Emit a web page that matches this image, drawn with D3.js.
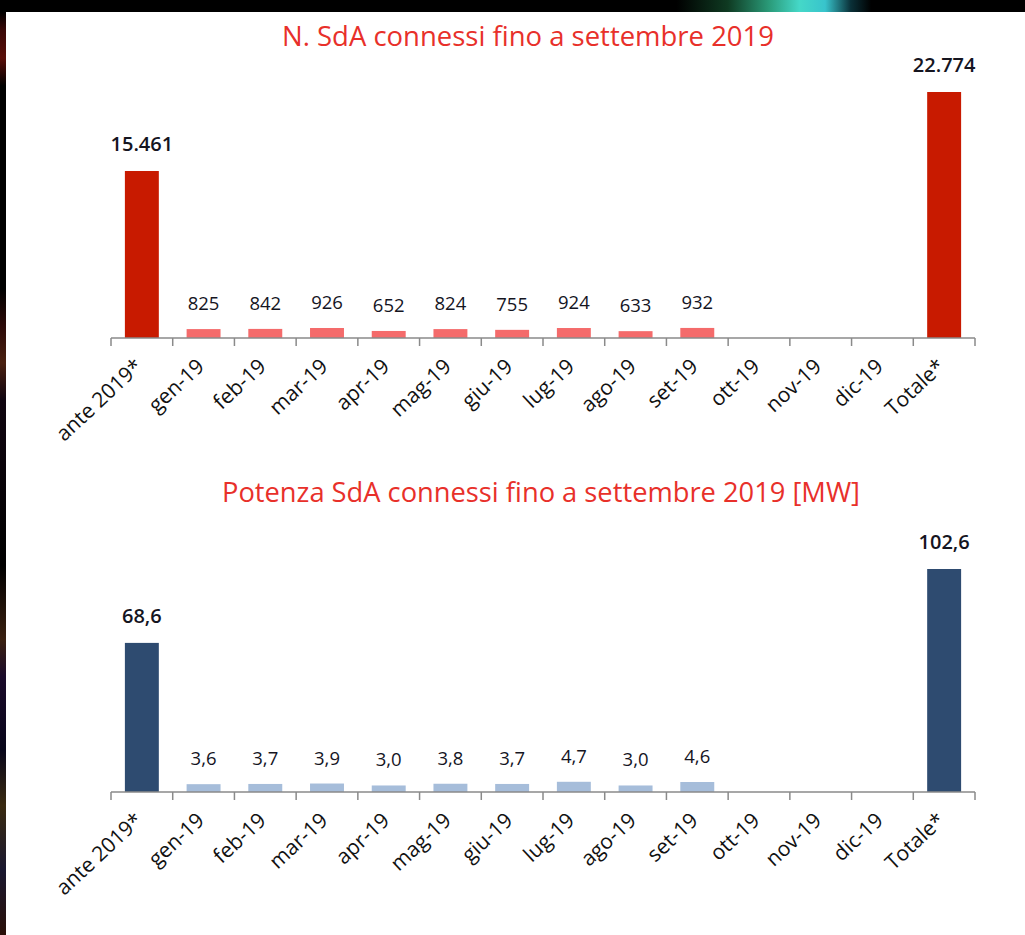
<!DOCTYPE html>
<html>
<head>
<meta charset="utf-8">
<script src="https://cdn.jsdelivr.net/npm/d3@7"></script>
<style>
  html, body { margin: 0; padding: 0; background: #000; }
  svg { display: block; }
  text { font-family: "Open Sans", "Noto Sans", sans-serif; }
</style>
</head>
<body>
<div id="chart"></div>
<script>
// categories on the x axis (same for both charts)
const categories = ["ante 2019*", "gen-19", "feb-19", "mar-19", "apr-19", "mag-19", "giu-19",
  "lug-19", "ago-19", "set-19", "ott-19", "nov-19", "dic-19", "Totale*"];

// number of connected SdA
const countValues = [15461, 825, 842, 926, 652, 824, 755, 924, 633, 932, null, null, null, 22774];

// power of connected SdA [MW]
const powerValues = [68.6, 3.6, 3.7, 3.9, 3.0, 3.8, 3.7, 4.7, 3.0, 4.6, null, null, null, 102.6];

const titles = ["N. SdA connessi fino a settembre 2019", "Potenza SdA connessi fino a settembre 2019 [MW]"];

(() => {
  const width = 1025;
  const height = 935;

  const it = d3.formatLocale({ decimal: ",", thousands: ".", grouping: [3], currency: ["€", ""] });

  const svg = d3
    .select("#chart")
    .append("svg")
    .attr("width", width)
    .attr("height", height);

  const defs = svg.append("defs");

  // streak in the black top band
  const topGrad = defs.append("linearGradient").attr("id", "topStreak");
  [
    [0, "#000"], [0.66, "#000"], [0.71, "#0f3a22"], [0.75, "#2a9a78"],
    [0.78, "#45d8c8"], [0.805, "#38c4cc"], [0.83, "#0a3038"], [0.85, "#000"], [1, "#000"]
  ].forEach(([o, c]) => topGrad.append("stop").attr("offset", o).attr("stop-color", c));

  // dark tinted strip on the left
  const leftGrad = defs.append("linearGradient").attr("id", "leftStrip")
    .attr("x1", 0).attr("x2", 0).attr("y1", 0).attr("y2", 1);
  [
    [0, "#000"], [0.02, "#3a0806"], [0.05, "#5a0e08"], [0.08, "#000"], [0.3, "#000"],
    [0.34, "#2c0a08"], [0.38, "#4a2010"], [0.42, "#100510"], [0.6, "#000"],
    [0.68, "#3a2010"], [0.72, "#1a0a2a"], [0.8, "#08061a"], [0.86, "#3a2a10"],
    [0.93, "#1a1830"], [1, "#2a1008"]
  ].forEach(([o, c]) => leftGrad.append("stop").attr("offset", o).attr("stop-color", c));

  svg.append("rect").attr("width", width).attr("height", height).attr("fill", "#000");
  svg.append("rect").attr("x", 0).attr("y", 0).attr("width", width).attr("height", 12)
    .attr("fill", "url(#topStreak)");
  svg.append("rect").attr("x", 0).attr("y", 12).attr("width", 6).attr("height", height - 12)
    .attr("fill", "url(#leftStrip)");
  svg.append("rect").attr("x", 6).attr("y", 12).attr("width", width - 6).attr("height", height - 12)
    .attr("fill", "#fff");

  const x = d3.scaleBand()
    .domain(categories)
    .range([111, 975])
    .paddingInner(0.45)
    .paddingOuter(0.225);

  const panels = [
    {
      title: titles[0], titleY: 46, titleX: 528, titleLen: 492,
      values: countValues, baseY: 338, topY: 92,
      dark: "#c81a00", light: "#f46b6b", fmt: it.format(",d")
    },
    {
      title: titles[1], titleY: 502, titleX: 541, titleLen: 638,
      values: powerValues, baseY: 792, topY: 569,
      dark: "#2e4b70", light: "#a6bdda", fmt: it.format(",.1f")
    }
  ];

  panels.forEach((p) => {
    const g = svg.append("g");
    const maxV = d3.max(p.values);
    const y = d3.scaleLinear().domain([0, maxV]).range([p.baseY, p.topY]);

    g.append("text")
      .attr("x", p.titleX)
      .attr("y", p.titleY)
      .attr("text-anchor", "middle")
      .attr("fill", "#e8302a")
      .style("font-size", "27px")
      .attr("textLength", p.titleLen)
      .attr("lengthAdjust", "spacingAndGlyphs")
      .text(p.title);

    const data = categories.map((c, i) => ({ cat: c, value: p.values[i], edge: i === 0 || i === categories.length - 1 }))
      .filter((d) => d.value != null);

    g.selectAll("rect.bar")
      .data(data)
      .join("rect")
      .attr("class", "bar")
      .attr("x", (d) => x(d.cat))
      .attr("y", (d) => y(d.value))
      .attr("width", x.bandwidth())
      .attr("height", (d) => y(0) - y(d.value))
      .attr("fill", (d) => (d.edge ? p.dark : p.light));

    g.selectAll("text.val")
      .data(data)
      .join("text")
      .attr("class", "val")
      .attr("x", (d) => x(d.cat) + x.bandwidth() / 2)
      .attr("y", (d) => y(d.value) - (d.edge ? 20 : 19))
      .attr("text-anchor", "middle")
      .attr("fill", "#15151f")
      .style("font-size", (d) => (d.edge ? "20px" : "18.5px"))
      .style("font-weight", (d) => (d.edge ? 600 : 500))
      .text((d) => p.fmt(d.value));

    // axis line with ticks between the categories
    const step = x.step();
    const bounds = categories.map((c) => x(c) + x.bandwidth() / 2 - step / 2);
    bounds.push(bounds[bounds.length - 1] + step);

    g.append("line")
      .attr("x1", bounds[0]).attr("x2", bounds[bounds.length - 1])
      .attr("y1", p.baseY).attr("y2", p.baseY)
      .attr("stroke", "#8a8a8a").attr("stroke-width", 1.5);

    g.selectAll("line.tick")
      .data(bounds)
      .join("line")
      .attr("class", "tick")
      .attr("x1", (d) => d).attr("x2", (d) => d)
      .attr("y1", p.baseY).attr("y2", p.baseY + 8)
      .attr("stroke", "#8a8a8a").attr("stroke-width", 1.5);

    g.selectAll("text.cat")
      .data(categories)
      .join("text")
      .attr("class", "cat")
      .attr("text-anchor", "end")
      .attr("fill", "#111")
      .style("font-size", "21px")
      .style("font-weight", 500)
      .attr("transform", (d) => `translate(${x(d) + x.bandwidth() / 2 + 2},${p.baseY + 30}) rotate(-43)`)
      .text((d) => d);
  });
})();
</script>
</body>
</html>
